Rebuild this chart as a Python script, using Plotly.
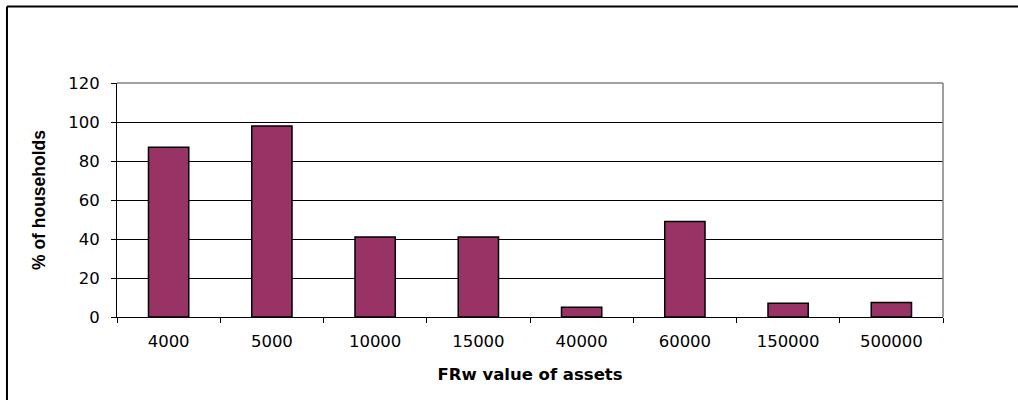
import plotly.graph_objects as go

# ── Data ──────────────────────────────────────────────────────────
asset_values = ['4000', '5000', '10000', '15000', '40000', '60000', '150000', '500000']
pct_households = [87, 98, 41, 41, 5, 49, 7, 7.5]
y_ticks = [0, 20, 40, 60, 80, 100, 120]

# ── Figure ────────────────────────────────────────────────────────
fig = go.Figure(go.Bar(
    x=asset_values,
    y=pct_households,
    marker=dict(color='#993366', line=dict(color='#000000', width=1.5)),
))

tick_font = dict(family='DejaVu Sans', size=16.5, color='#000000')

fig.update_layout(
    width=1018,
    height=400,
    margin=dict(l=117, r=75, t=83, b=83, autoexpand=False),
    paper_bgcolor='white',
    plot_bgcolor='white',
    bargap=0.61,
    showlegend=False,
    xaxis=dict(
        type='category',
        showline=True, linecolor='#000000', linewidth=1,
        ticks='outside', tickson='boundaries', ticklen=5, tickcolor='#000000',
        tickfont=tick_font, ticklabelstandoff=9,
        title=dict(text='<b>FRw value of assets</b>',
                   font=dict(family='DejaVu Sans', size=16.5, color='#000000'),
                   standoff=18),
        automargin=False,
    ),
    yaxis=dict(
        range=[0, 120],
        tickvals=y_ticks,
        showline=True, linecolor='#000000', linewidth=1,
        ticks='outside', ticklen=5, tickcolor='#000000',
        showgrid=True, gridcolor='#000000', gridwidth=1,
        zeroline=False,
        tickfont=tick_font, ticklabelstandoff=8,
        title=dict(text='<b>% of households</b>',
                   font=dict(family='Liberation Sans', size=17.5, color='#000000'),
                   standoff=18),
        automargin=False,
    ),
    shapes=[
        # grey top / right border of the plot area
        dict(type='line', xref='paper', yref='paper', x0=0, x1=1, y0=1, y1=1,
             line=dict(color='#808080', width=1.5)),
        dict(type='line', xref='paper', yref='paper', x0=1, x1=1, y0=0, y1=1,
             line=dict(color='#808080', width=1.5)),
        # outer chart frame (only top and left visible)
        dict(type='line', xref='paper', yref='paper', x0=-0.1332, x1=1.2, y0=1.327, y1=1.327,
             line=dict(color='#000000', width=2)),
        dict(type='line', xref='paper', yref='paper', x0=-0.1332, x1=-0.1332, y0=-0.5, y1=1.327,
             line=dict(color='#000000', width=2)),
    ],
)

# drop the default page margin so the figure sits at the window's corner
fig.write_html('out.html', config={'displayModeBar': False},
               post_script="document.body.style.margin='0';")
